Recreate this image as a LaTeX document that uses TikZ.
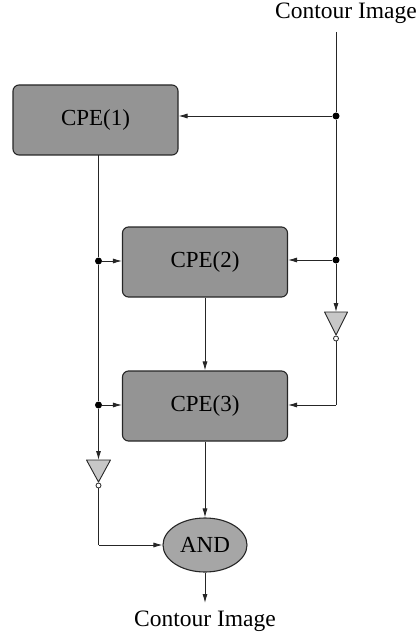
\documentclass[tikz,border=0pt]{standalone}
\usepackage{fontspec}
\setmainfont{Liberation Serif}
\usetikzlibrary{shapes.geometric,arrows.meta}
\begin{document}
\begin{tikzpicture}[x=1pt,y=-1pt,
 cpe/.style={draw=black!85, line width=1.1pt, fill=black!42, rounded corners=6pt, minimum width=165pt, minimum height=70pt, font=\fontsize{23}{26}\selectfont, inner sep=0pt},
 andnode/.style={ellipse, draw=black!85, line width=1.1pt, fill=black!35, minimum width=84pt, minimum height=54pt, inner sep=0pt, font=\fontsize{23}{26}\selectfont},
 invtri/.style={draw=black!85, fill=black!22, line width=0.9pt, line join=round},
 bub/.style={circle, draw=black!85, fill=white, minimum size=5pt, inner sep=0pt, line width=0.8pt},
 jdot/.style={circle, fill=black, minimum size=7pt, inner sep=0pt},
 wire/.style={draw=black!85, line width=0.85pt},
 arr/.style={wire, -{Latex[length=9pt,width=5pt]}},
 lbl/.style={font=\fontsize{23.5}{27}\selectfont, inner sep=0pt}]

\useasboundingbox (0,0) rectangle (418,639);

% labels
\node[lbl] (tin) at (346,13) {Contour Image};
\node[lbl] (tout) at (205,621) {Contour Image};

% blocks
\node[cpe] (c1) at (95.5,120) {CPE(1)};
\node[cpe] (c2) at (205,262) {CPE(2)};
\node[cpe] (c3) at (205,406) {CPE(3)};
\node[andnode] (and) at (205,545) {AND};

% junction dots
\node[jdot] (d1) at (336,116) {};
\node[jdot] (d2) at (336,260) {};
\node[jdot] (d3) at (98.5,261) {};
\node[jdot] (d4) at (98.5,405) {};

% inverters
\coordinate (ri) at (336,312);
\coordinate (li) at (98.5,460);
\path[invtri] (324.5,312) -- (347.5,312) -- (336,335) -- cycle;
\path[invtri] (86.5,460) -- (110.5,460) -- (98.5,482) -- cycle;
\node[bub] (rb) at (336,338.5) {};
\node[bub] (lb) at (98.5,485.5) {};

% helper coordinates
\coordinate (tstart) at (336,32);
\coordinate (c1out) at (98.5,155);
\coordinate (rturn) at (336,405);
\coordinate (lturn) at (98.5,545);
\coordinate (oend) at (205,603);

% connectors
\draw[wire] (tstart) -- (d1);
\draw[wire] (d1) -- (d2);
\draw[arr] (d1) -- (d1 -| c1.east);
\draw[arr] (d2) -- (d2 -| c2.east);
\draw[arr] (d2) -- (ri);
\draw[wire] (rb) -- (rturn);
\draw[arr] (rturn) -- (rturn -| c3.east);

\draw[wire] (c1out) -- (d3);
\draw[wire] (d3) -- (d4);
\draw[arr] (d3) -- (d3 -| c2.west);
\draw[arr] (d4) -- (d4 -| c3.west);
\draw[arr] (d4) -- (li);
\draw[wire] (lb) -- (lturn);
\draw[arr] (lturn) -- (and.west);

\draw[arr] (c2) -- (c3);
\draw[arr] (c3) -- (and);
\draw[arr] (and) -- (oend);
\end{tikzpicture}
\end{document}
